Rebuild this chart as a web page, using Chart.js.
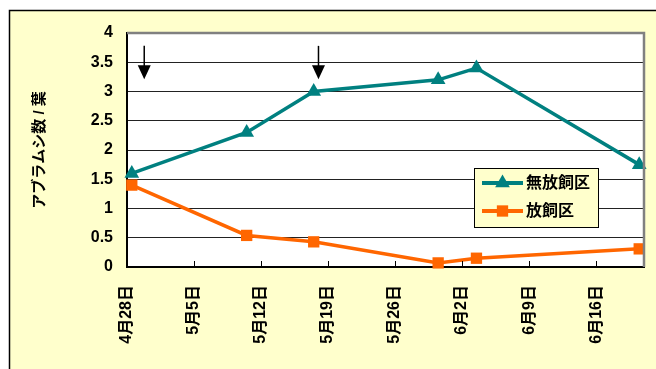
<!DOCTYPE html>
<html><head><meta charset="utf-8">
<script src="https://cdn.jsdelivr.net/npm/chart.js@4/dist/chart.umd.min.js"></script>
<style>html,body{margin:0;padding:0;background:#fff;}#wrap{width:656px;height:369px;position:relative;}</style>
</head><body><div id="wrap"><canvas id="c" width="656" height="369"></canvas></div>
<script>
// Dates as day offsets from 4月28日
const tickLabels = ["4月28日","5月5日","5月12日","5月19日","5月26日","6月2日","6月9日","6月16日"];
const sampleDays = [0, 12, 19, 32, 36, 53]; // 4/28, 5/10, 5/17, 5/30, 6/3, 6/20
const seriesNames = ["無放飼区", "放飼区"];
const noRelease = [1.6, 2.3, 3.0, 3.2, 3.4, 1.75];
const release = [1.4, 0.54, 0.43, 0.07, 0.15, 0.31];
const releaseArrowDays = [1.3, 19.5];
const arrowFrom = 3.78, arrowTo = 3.21;
const yTitle = "アブラムシ数 / 葉";

const FONT = '"Liberation Sans", "Noto Sans CJK JP", sans-serif';
const TEAL = '#008080', ORANGE = '#FF6600', BG = '#FFFFCC';

const bgPlugin = {
  id: 'bg',
  beforeDraw(chart) {
    const {ctx, chartArea: a} = chart;
    ctx.save();
    ctx.fillStyle = '#fff'; ctx.fillRect(0, 0, chart.width, chart.height);
    ctx.fillStyle = BG; ctx.fillRect(9, 10, chart.width - 9, chart.height - 10);
    ctx.strokeStyle = '#000'; ctx.lineWidth = 1.5;
    ctx.beginPath(); ctx.moveTo(9.5, chart.height); ctx.lineTo(9.5, 10.5); ctx.lineTo(chart.width, 10.5); ctx.stroke();
    ctx.fillStyle = '#fff'; ctx.fillRect(a.left, a.top, a.right - a.left, a.bottom - a.top);
    ctx.restore();
  },
  afterDatasetsDraw(chart) {
    const {ctx, chartArea: a, scales: {x, y}} = chart;
    ctx.save();
    // plot border top/right
    ctx.strokeStyle = '#808080'; ctx.lineWidth = 2.5;
    ctx.beginPath(); ctx.moveTo(a.left, a.top); ctx.lineTo(a.right, a.top); ctx.lineTo(a.right, a.bottom); ctx.stroke();
    // inside tick marks on x axis
    ctx.strokeStyle = '#000'; ctx.lineWidth = 1;
    x.ticks.forEach(t => {
      const px = Math.round(x.getPixelForValue(t.value)) + 0.5;
      ctx.beginPath(); ctx.moveTo(px, a.bottom); ctx.lineTo(px, a.bottom - 6); ctx.stroke();
    });
    // arrows
    ctx.fillStyle = '#000'; ctx.lineWidth = 1.5;
    releaseArrowDays.forEach(d => {
      const px = x.getPixelForValue(d);
      const y0 = y.getPixelForValue(arrowFrom), y1 = y.getPixelForValue(arrowTo);
      ctx.beginPath(); ctx.moveTo(px, y0); ctx.lineTo(px, y1 - 12); ctx.stroke();
      ctx.beginPath(); ctx.moveTo(px - 6.5, y1 - 14); ctx.lineTo(px + 6.5, y1 - 14); ctx.lineTo(px, y1); ctx.closePath(); ctx.fill();
    });
    // legend
    const lx = 474, ly = 168, lw = 124, lh = 59;
    ctx.fillStyle = BG; ctx.fillRect(lx, ly, lw, lh);
    ctx.strokeStyle = '#000'; ctx.lineWidth = 1;
    ctx.strokeRect(lx + 0.5, ly + 0.5, lw, lh);
    chart.data.datasets.forEach((ds, i) => {
      const cy = ly + 15 + i * 28;
      ctx.strokeStyle = ds.borderColor; ctx.lineWidth = 4;
      ctx.beginPath(); ctx.moveTo(482, cy); ctx.lineTo(523, cy); ctx.stroke();
      ctx.fillStyle = ds.borderColor;
      ctx.beginPath();
      if (ds.pointStyle === 'triangle') { const r = ds.pointRadius; ctx.moveTo(502.5, cy - r); ctx.lineTo(502.5 + r*0.866, cy + r*0.5); ctx.lineTo(502.5 - r*0.866, cy + r*0.5); }
      else { const s = ds.pointRadius * Math.SQRT1_2; ctx.rect(502.5 - s, cy - s, 2*s, 2*s); }
      ctx.closePath(); ctx.fill();
      ctx.fillStyle = '#000'; ctx.font = 'bold 16px ' + FONT; ctx.textBaseline = 'middle'; ctx.textAlign = 'left';
      ctx.fillText(ds.label, 526, cy + 1);
    });
    ctx.restore();
  }
};

new Chart(document.getElementById('c'), {
  type: 'line',
  data: {
    datasets: [
      { label: seriesNames[0], data: sampleDays.map((d, i) => ({x: d, y: noRelease[i]})),
        borderColor: TEAL, backgroundColor: TEAL, borderWidth: 3.5, pointStyle: 'triangle', pointRadius: 8.5,
        pointBorderWidth: 0, tension: 0, clip: false },
      { label: seriesNames[1], data: sampleDays.map((d, i) => ({x: d, y: release[i]})),
        borderColor: ORANGE, backgroundColor: ORANGE, borderWidth: 3.5, pointStyle: 'rect', pointRadius: 8,
        pointBorderWidth: 0, tension: 0, clip: false }
    ]
  },
  options: {
    responsive: false, animation: false,
    layout: { padding: { left: 0, top: 33, right: 12, bottom: 0 } },
    plugins: { legend: { display: false }, tooltip: { enabled: false } },
    scales: {
      x: {
        type: 'linear', min: -0.5, max: 53.5,
        afterBuildTicks: s => { s.ticks = tickLabels.map((_, i) => ({ value: i * 7 - 0.5 })); },
        afterFit: s => { s.height = 102; s.paddingLeft = 0; s.paddingRight = 0; },
        grid: { display: false, drawTicks: false },
        border: { display: true, color: '#000', width: 2 },
        ticks: { autoSkip: false, minRotation: 90, maxRotation: 90, padding: 18, color: '#000',
          font: { family: FONT, size: 16, weight: 'bold' },
          callback: (v, i) => tickLabels[i] }
      },
      y: {
        min: 0, max: 4,
        afterFit: s => { s.width = 127; },
        ticks: { stepSize: 0.5, padding: 14, color: '#000', font: { family: FONT, size: 16, weight: 'bold' },
          callback: v => String(v) },
        grid: { color: '#222', lineWidth: 1, drawTicks: false },
        border: { display: true, color: '#000', width: 2 },
        title: { display: true, text: yTitle, color: '#000', font: { family: FONT, size: 15, weight: 'bold' },
          padding: { top: 31, bottom: 0 } }
      }
    }
  },
  plugins: [bgPlugin]
});
</script></body></html>
